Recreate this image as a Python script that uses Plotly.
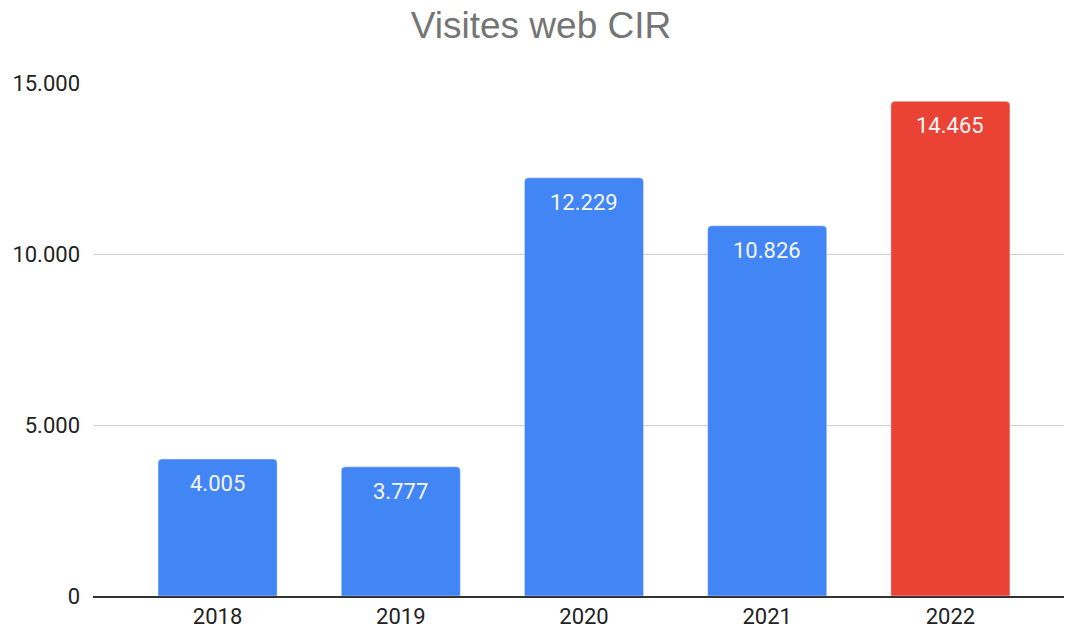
import plotly.graph_objects as go

years = ["2018", "2019", "2020", "2021", "2022"]
visits = [4005, 3777, 12229, 10826, 14465]
bar_colors = ["#4285F4", "#4285F4", "#4285F4", "#4285F4", "#EA4335"]
y_ticks = [0, 5000, 10000, 15000]
y_labels = ["0", "5.000", "10.000", "15.000"]

fig = go.Figure()
fig.add_trace(go.Bar(
    x=years,
    y=visits,
    marker_color=bar_colors,
    marker_cornerradius=4,
    hoverinfo="x+y",
))

# value labels just inside the top of each bar
# (category index for x, "2018" as a string gets read as a number)
for i, v in enumerate(visits):
    fig.add_annotation(
        x=i, y=v, xref="x", yref="y",
        text=f"{v:,}".replace(",", "."),
        showarrow=False,
        yanchor="top",
        yshift=-10,
        font=dict(family="Roboto", size=22, color="#f5f5f5"),
    )

fig.update_layout(
    width=1065,
    height=636,
    margin=dict(l=93, r=1, t=83, b=40),
    paper_bgcolor="white",
    plot_bgcolor="white",
    bargap=0.35,
    showlegend=False,
    title=dict(
        text="Visites web CIR",
        x=0.508,
        xref="container",
        xanchor="center",
        y=0.96,
        yanchor="middle",
        font=dict(family="Liberation Sans", size=37, color="#757575"),
    ),
    xaxis=dict(
        type="category",
        range=[-0.68, 4.62],
        showgrid=False,
        showline=True,
        linecolor="#333333",
        linewidth=1.5,
        ticks="",
        tickfont=dict(family="Roboto", size=22, color="#222222"),
    ),
    yaxis=dict(
        range=[0, 15000],
        tickvals=y_ticks,
        ticktext=y_labels,
        showgrid=True,
        gridcolor="#d0d0d0",
        gridwidth=1,
        zeroline=False,
        showline=False,
        ticks="",
        ticklabelstandoff=12,
        tickfont=dict(family="Roboto", size=22, color="#222222"),
    ),
)

fig.write_html("out.html", config={"displayModeBar": False},
               post_script="document.body.style.margin='0';")
